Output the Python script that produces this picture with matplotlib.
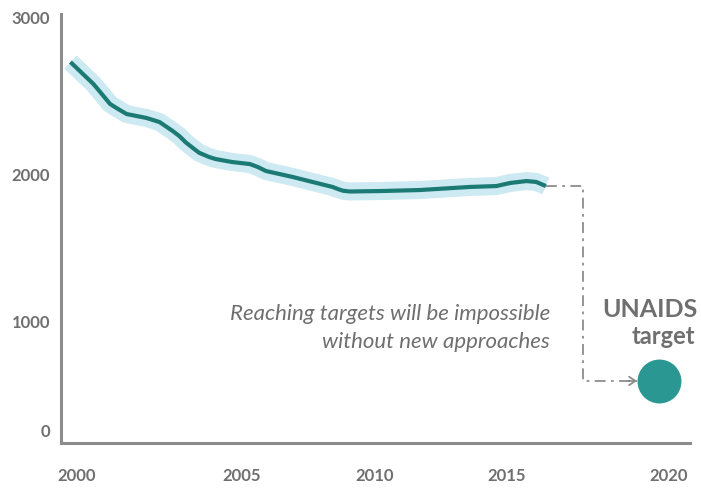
import numpy as np
import matplotlib
matplotlib.use("Agg")
import matplotlib.pyplot as plt
from matplotlib.scale import FuncScale

# ---- data ----
years = [1999.8, 2000.5, 2000.7, 2001.0, 2001.15, 2001.3, 2001.5, 2002.1, 2002.5,
         2002.9, 2003.1, 2003.3, 2003.55, 2003.7, 2004.0, 2004.2, 2004.7, 2005.3,
         2005.6, 2005.9, 2006.9, 2007.8, 2008.4, 2008.6, 2008.8, 2009.05, 2009.4,
         2010.2, 2011.7, 2013.6, 2014.6, 2015.1, 2015.6, 2015.9, 2016.2]
values = [2711, 2571, 2521, 2445, 2425, 2406, 2381, 2356, 2330,
          2273, 2241, 2200, 2159, 2135, 2108, 2095, 2076, 2063,
          2044, 2019, 1980, 1939, 1912, 1898, 1886, 1881, 1882,
          1884, 1891, 1912, 1918, 1939, 1952, 1946, 1918]
bridge_x = 2017.35          # year where the dash-dot connector turns down
target_year = 2019.7
target_value = 450
x_ticks = [2000, 2005, 2010, 2015, 2020]
x_tick_labels = ["2000", "2005", "2010", "2015", "2020"]
y_ticks = [0, 1000, 2000, 3000]
y_tick_labels = ["0", "1000", "2000", "3000"]
note_lines = ["Reaching targets will be impossible", "without new approaches"]
target_lines = ["UNAIDS", "target"]

# ---- styles ----
W, H = 701, 489
grey = "#6f6f6f"
axis_grey = "#8c8c8c"
line_col = "#1c7a75"
halo_col = "#cde9f1"
dot_col = "#2a9793"


def piecewise(xk, yk):
    xk = np.asarray(xk, float)
    yk = np.asarray(yk, float)
    s0 = (yk[1] - yk[0]) / (xk[1] - xk[0])
    s1 = (yk[-1] - yk[-2]) / (xk[-1] - xk[-2])

    def fwd(v):
        v = np.asarray(v, float)
        out = np.interp(v, xk, yk)
        out = np.where(v < xk[0], yk[0] + (v - xk[0]) * s0, out)
        out = np.where(v > xk[-1], yk[-1] + (v - xk[-1]) * s1, out)
        return out

    def inv(u):
        u = np.asarray(u, float)
        out = np.interp(u, yk, xk)
        out = np.where(u < yk[0], xk[0] + (u - yk[0]) / s0, out)
        out = np.where(u > yk[-1], xk[-1] + (u - yk[-1]) / s1, out)
        return out

    return fwd, inv


# the infographic's axes are hand-spaced; reproduce its spacing with piecewise scales
xf, xi = piecewise(x_ticks, [77, 242, 375, 507, 669])
yf, yi = piecewise(y_ticks, [-431, -322, -175, -17.5])

fig = plt.figure(figsize=(W / 100, H / 100), dpi=100)
ax = fig.add_axes([61 / W, 1 - 444 / H, (690 - 61) / W, (444 - 15) / H])
ax.set_xscale(FuncScale(ax, (xf, xi)))
ax.set_yscale(FuncScale(ax, (yf, yi)))
ax.set_xlim(float(xi(61)), float(xi(690)))
ax.set_ylim(float(yi(-444)), float(yi(-15)))

ax.plot(years, values, color=halo_col, lw=13, solid_capstyle="butt",
        solid_joinstyle="round", zorder=2)
ax.plot(years, values, color=line_col, lw=3, solid_capstyle="butt",
        solid_joinstyle="round", zorder=3)

# dash-dot connector to the target
tip_x = float(xi(637))
ax.plot([years[-1], bridge_x, bridge_x, tip_x],
        [values[-1], values[-1], target_value, target_value],
        color=axis_grey, lw=1.3, linestyle=(0, (6, 3, 1.5, 3)), zorder=1)
ax.annotate("", xy=(tip_x, target_value), xytext=(tip_x - 0.3, target_value),
            arrowprops=dict(arrowstyle="->,head_length=0.45,head_width=0.3",
                            color=axis_grey, lw=1.3, shrinkA=0, shrinkB=0))

ax.scatter([target_year], [target_value], s=1000, color=dot_col, zorder=4,
           linewidths=0)

for s in ["top", "right"]:
    ax.spines[s].set_visible(False)
for s in ["left", "bottom"]:
    ax.spines[s].set_color(axis_grey)
    ax.spines[s].set_linewidth(2.2)

ax.set_xticks(x_ticks)
ax.set_xticklabels(x_tick_labels)
ax.set_yticks(y_ticks)
ax.set_yticklabels(y_tick_labels)
ax.tick_params(axis="both", length=0, colors=grey)
ax.tick_params(axis="x", pad=17)
ax.tick_params(axis="y", pad=8)
for lab in ax.get_xticklabels() + ax.get_yticklabels():
    lab.set_fontfamily("Lato")
    lab.set_fontweight("bold")
    lab.set_fontsize(12)
    lab.set_color(grey)

fig.text(550 / W, 1 - 320 / H, note_lines[0], ha="right", va="baseline",
         fontsize=16, style="italic", family="Lato", color=grey)
fig.text(550 / W, 1 - 348 / H, note_lines[1], ha="right", va="baseline",
         fontsize=16, style="italic", family="Lato", color=grey)
fig.text(697 / W, 1 - 317 / H, target_lines[0], ha="right", va="baseline",
         fontsize=18, weight="bold", family="Lato", color=grey)
fig.text(695 / W, 1 - 344 / H, target_lines[1], ha="right", va="baseline",
         fontsize=17, weight="bold", family="Lato", color=grey)

fig.savefig("out.png", dpi=100)
